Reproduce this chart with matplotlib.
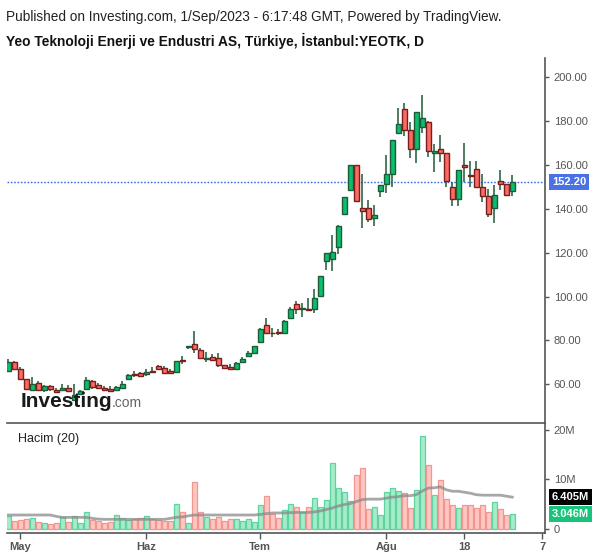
import matplotlib
matplotlib.use("Agg")
import matplotlib.pyplot as plt
import matplotlib.transforms as mtransforms
import numpy as np

plt.rcParams['font.family'] = ['Liberation Sans', 'DejaVu Sans']

# ---------------- data ----------------
opens = [66.2, 70.0, 67.0, 62.4, 57.3, 60.4, 57.3, 59.1, 57.4, 57.3,
         58.3, 53.0, 55.4, 57.7, 61.5, 59.5, 58.4, 57.7, 57.3, 58.2,
         62.3, 64.6, 65.0, 64.5, 66.0, 68.2, 67.3, 65.9, 65.5, 70.9,
         77.0, 78.4, 75.5, 71.7, 72.3, 71.8, 68.7, 67.7, 66.8, 70.3,
         72.8, 74.1, 79.2, 86.9, 83.4, 83.6, 83.3, 90.1, 96.5, 94.3,
         94.4, 94.2, 100.1, 116.4, 117.0, 122.8, 137.8, 148.6, 159.9, 140.3,
         140.3, 135.7, 148.0, 151.2, 155.8, 174.5, 185.4, 175.9, 167.2, 177.5,
         179.5, 165.3, 167.2, 165.4, 149.9, 144.4, 159.9, 155.4, 158.1, 149.9,
         145.8, 140.3, 152.9, 151.2, 148.0]
highs = [71.5, 70.6, 67.9, 62.6, 63.3, 61.5, 59.7, 59.8, 58.2, 60.1,
         59.7, 60.1, 57.3, 63.2, 61.8, 60.4, 59.4, 59.0, 59.2, 61.5,
         64.6, 66.0, 65.6, 66.8, 67.9, 68.6, 68.2, 66.8, 70.8, 72.9,
         77.4, 84.3, 76.5, 74.6, 73.8, 74.3, 69.0, 69.3, 70.0, 72.4,
         75.2, 77.5, 85.5, 90.2, 85.5, 85.1, 89.3, 95.1, 98.0, 97.1,
         99.4, 103.5, 109.6, 119.9, 128.1, 132.5, 145.5, 160.2, 160.2, 155.8,
         144.1, 141.8, 151.0, 164.6, 171.6, 185.9, 188.2, 179.5, 184.3, 192.0,
         180.0, 169.5, 173.7, 165.6, 152.4, 157.8, 169.9, 161.7, 161.9, 155.8,
         149.0, 150.9, 157.6, 151.5, 155.5]
lows = [65.8, 66.5, 62.2, 57.3, 57.0, 57.0, 56.4, 56.8, 55.9, 57.0,
        56.5, 52.8, 55.2, 57.5, 58.0, 57.9, 57.0, 56.5, 57.0, 57.8,
        62.0, 63.4, 63.4, 63.8, 65.4, 66.4, 65.0, 64.6, 65.3, 69.1,
        76.3, 74.1, 71.6, 70.3, 70.9, 68.0, 66.9, 66.5, 66.5, 69.5,
        72.5, 73.8, 78.9, 83.0, 81.7, 82.5, 83.0, 89.8, 91.9, 90.8,
        93.9, 92.4, 99.8, 112.1, 111.8, 119.3, 137.5, 148.3, 143.5, 131.2,
        134.2, 132.3, 145.6, 147.4, 150.1, 174.2, 173.4, 163.1, 160.8, 174.5,
        163.8, 156.7, 161.3, 149.9, 141.5, 141.2, 152.4, 150.1, 149.5, 143.3,
        136.5, 133.4, 148.5, 145.8, 145.8]
closes = [70.0, 66.8, 62.4, 57.7, 60.0, 57.3, 59.1, 57.7, 56.4, 58.3,
          56.8, 55.2, 57.1, 62.0, 58.6, 58.2, 57.3, 56.8, 58.9, 60.1,
          64.1, 64.3, 63.9, 65.5, 65.8, 67.1, 65.3, 65.0, 70.5, 70.6,
          77.3, 76.0, 71.8, 71.9, 71.2, 68.7, 67.3, 66.8, 69.6, 71.4,
          74.3, 77.3, 85.1, 83.3, 83.2, 83.4, 88.7, 94.2, 94.2, 94.6,
          94.1, 99.2, 109.3, 119.8, 120.2, 132.2, 145.3, 159.9, 143.8, 138.9,
          135.3, 137.1, 150.8, 155.8, 171.4, 178.7, 175.9, 167.2, 184.1, 181.3,
          166.3, 166.3, 165.4, 152.6, 144.4, 157.6, 159.0, 155.0, 149.9, 145.8,
          137.6, 146.2, 151.2, 146.2, 152.2]
volumes_m = [2.6, 1.56, 1.76, 2.03, 2.17, 1.36, 1.09, 0.95, 1.09, 2.3,
             1.36, 2.5, 1.09, 3.39, 1.76, 1.62, 1.16, 1.36, 2.7, 2.17,
             1.76, 1.9, 2.17, 2.5, 1.9, 1.76, 1.56, 1.56, 4.95, 3.39,
             1.09, 9.47, 3.39, 2.3, 1.9, 2.3, 1.62, 1.9, 1.9, 1.56,
             1.9, 1.36, 4.75, 6.57, 2.98, 2.17, 3.79, 4.95, 4.34, 3.33,
             4.34, 6.17, 4.34, 5.82, 13.26, 8.19, 7.44, 5.62, 10.9, 12.25,
             4.0, 4.34, 2.72, 7.44, 8.19, 7.65, 7.24, 4.14, 7.85, 18.8,
             12.92, 6.77, 9.8, 5.96, 4.74, 4.14, 4.74, 4.74, 4.14, 4.74,
             3.33, 5.35, 3.93, 2.72, 3.046]
volume_ma20_m = [2.78, 2.78, 2.78, 2.78, 2.78, 2.78, 2.78, 2.78, 2.5, 2.3,
                 2.3, 2.3, 2.3, 2.3, 2.1, 1.95, 1.9, 1.9, 1.9, 1.9,
                 1.9, 1.9, 1.9, 1.9, 1.9, 1.9, 1.9, 2.1, 2.3, 2.4,
                 2.6, 2.78, 2.78, 2.78, 2.78, 2.78, 2.78, 2.78, 2.78, 2.78,
                 2.78, 2.78, 2.9, 3.05, 3.2, 3.2, 3.2, 3.25, 3.3, 3.3,
                 3.3, 3.4, 3.6, 3.9, 4.2, 4.6, 4.9, 5.1, 5.5, 5.9,
                 6.0, 6.0, 6.0, 6.2, 6.4, 6.5, 6.7, 6.7, 6.9, 7.65,
                 8.25, 8.3, 8.5, 7.9, 7.6, 7.6, 7.4, 7.2, 6.9, 6.8,
                 6.8, 6.8, 6.8, 6.6, 6.405]
x_tick_pos = [2, 23, 42, 63, 76, 89]
x_tick_labels = ["May", "Haz", "Tem", "Ağu", "18", "7"]
price_ticks = [60, 80, 100, 120, 140, 160, 180, 200]
vol_ticks = [0, 10, 20]
vol_tick_labels = ["0", "10M", "20M"]
last_price = 152.20
last_vol = 3.046
last_vol_ma = 6.405

# ---------------- style ----------------
W, H = 600, 558
G_BODY, G_EDGE = "#0dbd6e", "#1d5c38"
R_BODY, R_EDGE = "#fa6b61", "#7a1d1d"
WICK = "#1f5a36"
AX_COL = "#555555"
TXT_COL = "#555555"

fig = plt.figure(figsize=(W / 100, H / 100), dpi=100)
fig.patch.set_facecolor("white")

def rect(l, t, r, b):
    return [l / W, (H - b) / H, (r - l) / W, (b - t) / H]

L, R = 7, 545.3
ax_p = fig.add_axes(rect(L, 58, R, 423.3))
ax_v = fig.add_axes(rect(L, 423.3, R, 533.3), sharex=ax_p)

x = np.arange(len(opens))
o = np.array(opens); c = np.array(closes); h = np.array(highs); lo = np.array(lows)
up = c >= o

# ---- price panel ----
ax_p.axhline(last_price, color="#3f6ae8", lw=1.0, ls=(0, (1.2, 1.2)), zorder=1)
ax_p.vlines(x, lo, h, color=WICK, lw=1.1, zorder=2)
body_bot = np.minimum(o, c)
body_h = np.maximum(np.abs(c - o), 0.35)
ax_p.bar(x[up], body_h[up], bottom=body_bot[up], width=0.74,
         color=G_BODY, edgecolor=G_EDGE, linewidth=1.0, zorder=3)
ax_p.bar(x[~up], body_h[~up], bottom=body_bot[~up], width=0.74,
         color=R_BODY, edgecolor=R_EDGE, linewidth=1.0, zorder=3)

ax_p.set_xlim(-0.217, 89.5)
ax_p.set_ylim(42.2, 208.85)
ax_p.yaxis.tick_right()
ax_p.set_yticks(price_ticks)
ax_p.set_yticklabels([f"{v:.2f}" for v in price_ticks])
ax_p.tick_params(axis="y", direction="out", length=3, width=1, color=AX_COL,
                 labelsize=8, labelcolor=TXT_COL, pad=3)
ax_p.tick_params(axis="x", bottom=False, labelbottom=False)
for s in ["top", "left", "bottom"]:
    ax_p.spines[s].set_visible(False)
ax_p.spines["right"].set_color(AX_COL)
ax_p.spines["right"].set_linewidth(1.2)

# last price label
trans_p = mtransforms.blended_transform_factory(ax_p.transAxes, ax_p.transData)
ax_p.text(1.012, last_price, f"{last_price:.2f}", transform=trans_p,
          ha="left", va="center", fontsize=8, fontweight="bold", color="white",
          bbox=dict(boxstyle="square,pad=0.28", fc="#4a72e4", ec="none"),
          clip_on=False, zorder=10)

# Investing logo
fig.text(21 / W, 1 - 407 / H, "Investing", fontsize=15, fontweight="bold",
         color="#1a1a1a", ha="left", va="baseline")
fig.text(112 / W, 1 - 407 / H, ".com", fontsize=10, color="#666666",
         ha="left", va="baseline")

# ---- volume panel ----
vcol = np.where(up, "#a6ecca", "#ffc7c3")
vedge = np.where(up, "#5fd3a0", "#f2978e")
ax_v.bar(x, volumes_m, width=0.86, color=vcol, edgecolor=vedge, linewidth=0.9, zorder=2)
ax_v.plot(x, volume_ma20_m, color="#8a8a8a", lw=2.0, alpha=0.75, zorder=3)
ax_v.set_ylim(-0.93, 21.38)
ax_v.yaxis.tick_right()
ax_v.set_yticks(vol_ticks)
ax_v.set_yticklabels(vol_tick_labels)
ax_v.tick_params(axis="y", direction="out", length=3, width=1, color=AX_COL,
                 labelsize=8, labelcolor=TXT_COL, pad=3)
ax_v.set_xticks(x_tick_pos)
ax_v.set_xticklabels(x_tick_labels)
ax_v.tick_params(axis="x", direction="out", length=4, width=1, color=AX_COL,
                 labelsize=8, labelcolor=TXT_COL, pad=2)
for lab in ax_v.get_xticklabels():
    lab.set_fontweight("bold")
ax_v.spines["left"].set_visible(False)
for s in ["top", "bottom", "right"]:
    ax_v.spines[s].set_color(AX_COL)
    ax_v.spines[s].set_linewidth(1.2)
ax_v.text(0.02, 0.86, "Hacim (20)", transform=ax_v.transAxes, fontsize=9,
          color="#222222", ha="left", va="center")

trans_v = mtransforms.blended_transform_factory(ax_v.transAxes, ax_v.transData)
ax_v.text(1.012, last_vol_ma, f"{last_vol_ma:.3f}M", transform=trans_v,
          ha="left", va="center", fontsize=8, fontweight="bold", color="white",
          bbox=dict(boxstyle="square,pad=0.28", fc="#000000", ec="none"),
          clip_on=False, zorder=10)
ax_v.text(1.012, last_vol, f"{last_vol:.3f}M", transform=trans_v,
          ha="left", va="center", fontsize=8, fontweight="bold", color="white",
          bbox=dict(boxstyle="square,pad=0.28", fc="#16c47a", ec="none"),
          clip_on=False, zorder=10)

# ---- header ----
fig.text(6 / W, 1 - 17 / H, "Published on Investing.com, 1/Sep/2023 - 6:17:48 GMT, Powered by TradingView.",
         fontsize=9.8, color="#222222", ha="left", va="center")
fig.text(6 / W, 1 - 41 / H, "Yeo Teknoloji Enerji ve Endustri AS, Türkiye, İstanbul:YEOTK, D",
         fontsize=9.9, fontweight="bold", color="#111111", ha="left", va="center")

fig.savefig("out.png", dpi=100, facecolor="white")
